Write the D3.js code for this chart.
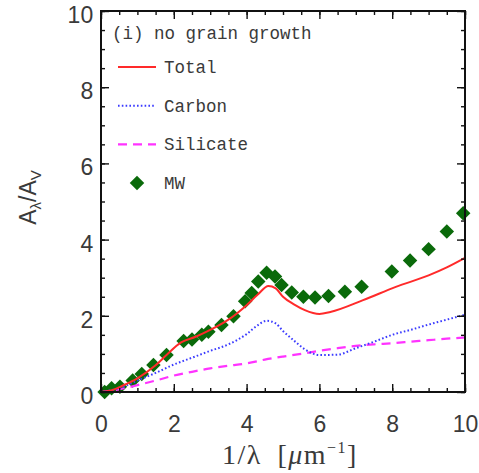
<!DOCTYPE html>
<html>
<head>
<meta charset="utf-8">
<script src="https://cdn.jsdelivr.net/npm/d3@7"></script>
<style>
  html, body { margin: 0; padding: 0; background: #fff; }
  svg { display: block; }
</style>
</head>
<body>
<svg id="svg"></svg>
<script>
// values
const totalX = [0, 0.3, 0.6, 1, 1.5, 1.8, 2.2, 2.6, 3, 3.5, 4, 4.3, 4.6, 4.8, 5, 5.3, 5.6, 6, 6.3, 7.2, 8.1, 9, 9.5, 10]
const totalY = [0, 0.05, 0.17, 0.36, 0.7, 0.97, 1.3, 1.45, 1.63, 1.9, 2.28, 2.55, 2.78, 2.72, 2.5, 2.3, 2.15, 2.05, 2.1, 2.41, 2.76, 3.06, 3.27, 3.52]
const carbonX = [0, 0.5, 1, 1.5, 2, 2.5, 3, 3.5, 4, 4.3, 4.55, 4.8, 5, 5.3, 5.6, 6, 6.5, 7, 7.5, 8, 8.5, 9, 9.5, 10]
const carbonY = [0, 0.1, 0.3, 0.5, 0.72, 0.9, 1.08, 1.25, 1.52, 1.75, 1.87, 1.8, 1.6, 1.35, 1.12, 0.97, 0.98, 1.15, 1.32, 1.5, 1.63, 1.77, 1.9, 2.03]
const silicateX = [0, 0.5, 1, 1.5, 2, 2.5, 3, 3.5, 4, 4.5, 5, 5.5, 6, 6.5, 7, 7.5, 8, 8.5, 9, 9.5, 10]
const silicateY = [0, 0.07, 0.18, 0.3, 0.43, 0.53, 0.62, 0.69, 0.75, 0.85, 0.93, 1.0, 1.08, 1.15, 1.21, 1.25, 1.28, 1.32, 1.36, 1.4, 1.43]
const mwX = [0.1, 0.29, 0.52, 0.87, 1.12, 1.44, 1.8, 2.27, 2.5, 2.77, 2.95, 3.31, 3.64, 3.96, 4.14, 4.32, 4.55, 4.78, 4.96, 5.24, 5.56, 5.88, 6.25, 6.7, 7.16, 7.99, 8.49, 9.0, 9.5, 9.95]
const mwY = [0.0, 0.1, 0.14, 0.3, 0.47, 0.71, 0.97, 1.34, 1.38, 1.5, 1.58, 1.76, 1.99, 2.38, 2.6, 2.9, 3.13, 3.03, 2.81, 2.61, 2.5, 2.48, 2.52, 2.63, 2.76, 3.16, 3.45, 3.75, 4.21, 4.69]
const majorTicks = [0, 2, 4, 6, 8, 10]
const legendNames = ['Total', 'Carbon', 'Silicate', 'MW']
const panelTitle = '(i) no grain growth'

const width = 479, height = 473
const margin = {top: 11, right: 14, bottom: 81, left: 101}
const x0 = margin.left, x1 = width - margin.right
const y0 = height - margin.bottom, y1 = margin.top

const x = d3.scaleLinear().domain([0, 10]).range([x0, x1])
const y = d3.scaleLinear().domain([0, 10]).range([y0, y1])
const minor = d3.range(0, 10.01, 0.5)

const styles = {
  Total: {color: '#ff2a2a', dash: null, w: 2},
  Carbon: {color: '#3b3bff', dash: '1.6,2.2', w: 2},
  Silicate: {color: '#ff33ff', dash: '9,6', w: 2.2}
}
const mwColor = '#0a6a0a'
const textColor = '#3a3a3a'

const svg = d3.select('#svg').attr('width', width).attr('height', height)
const plot = svg.append('g')

// MW points sit under the model curves
const diamond = d3.symbol(d3.symbolSquare, 105)
plot.selectAll('.mw')
  .data(d3.zip(mwX, mwY))
  .join('path')
    .attr('class', 'mw')
    .attr('d', diamond)
    .attr('transform', d => `translate(${x(d[0])},${y(d[1])}) rotate(45)`)
    .attr('fill', mwColor)

const line = d3.line().x(d => x(d[0])).y(d => y(d[1])).curve(d3.curveMonotoneX)
const series = [
  ['Silicate', d3.zip(silicateX, silicateY)],
  ['Carbon', d3.zip(carbonX, carbonY)],
  ['Total', d3.zip(totalX, totalY)]
]
series.forEach(([name, pts]) => {
  const s = styles[name]
  plot.append('path')
    .attr('d', line(pts))
    .attr('fill', 'none')
    .attr('stroke', s.color)
    .attr('stroke-width', s.w)
    .attr('stroke-dasharray', s.dash)
})

// axes, ticks on all four sides pointing inward
function axisPair(axisFn, scale, pos, pad) {
  const gMinor = svg.append('g').attr('transform', pos)
    .call(axisFn(scale).tickValues(minor).tickSize(-4).tickFormat(''))
  const gMajor = svg.append('g').attr('transform', pos)
    .call(axisFn(scale).tickValues(majorTicks).tickSize(-8).tickPadding(pad || 0)
      .tickFormat(pad ? d3.format('d') : ''))
  ;[gMinor, gMajor].forEach(g => {
    g.selectAll('.domain').remove()
    g.selectAll('line').attr('stroke', '#111').attr('stroke-width', 1.4)
  })
  gMajor.selectAll('text')
    .attr('fill', textColor)
    .style('font-family', 'Liberation Sans, Arial, sans-serif')
    .style('font-size', '23px')
  return gMajor
}
axisPair(d3.axisBottom, x, `translate(0,${y0})`, 24)
axisPair(d3.axisTop, x, `translate(0,${y1})`, 0)
const yl = axisPair(d3.axisLeft, y, `translate(${x0},0)`, 17)
yl.selectAll('text').attr('dx', '0.4em').attr('dy', '0.5em')
axisPair(d3.axisRight, y, `translate(${x1},0)`, 0)

svg.append('rect')
  .attr('x', x0).attr('y', y1)
  .attr('width', x1 - x0).attr('height', y0 - y1)
  .attr('fill', 'none').attr('stroke', '#111').attr('stroke-width', 2)

// axis titles
const xt = svg.append('text')
  .attr('x', 290).attr('y', 464)
  .attr('text-anchor', 'middle')
  .attr('fill', textColor)
  .style('font-family', 'Liberation Serif, serif')
  .style('font-size', '28px')
  .style('letter-spacing', '1.5px')
xt.append('tspan').text('1/λ\u2002[')
xt.append('tspan').style('font-style', 'italic').text('μ')
xt.append('tspan').text('m')
xt.append('tspan').attr('dy', -11).style('font-size', '16px').text('−1')
xt.append('tspan').attr('dy', 11).text(']')

const yt = svg.append('text')
  .attr('transform', `translate(36,${(y0 + y1) / 2 - 4}) rotate(-90)`)
  .attr('text-anchor', 'middle')
  .attr('fill', textColor)
  .style('font-family', 'Liberation Sans, Arial, sans-serif')
  .style('font-size', '23px')
yt.append('tspan').text('A')
yt.append('tspan').attr('dy', 5).style('font-size', '15px').text('λ')
yt.append('tspan').attr('dy', -5).text('/A')
yt.append('tspan').attr('dy', 5).style('font-size', '15px').text('V')

// legend
const mono = 'Liberation Mono, Courier New, monospace'
svg.append('text')
  .attr('x', 112).attr('y', 39)
  .attr('fill', textColor)
  .style('font-family', mono)
  .style('font-size', '17.5px')
  .text(panelTitle)

const legendY = d3.scalePoint().domain(legendNames).range([67, 183])
const leg = svg.append('g')
legendNames.forEach(name => {
  const yy = legendY(name)
  if (name === 'MW') {
    leg.append('path').attr('d', diamond)
      .attr('transform', `translate(137,${yy}) rotate(45)`)
      .attr('fill', mwColor)
  } else {
    const s = styles[name]
    leg.append('line')
      .attr('x1', 118).attr('x2', 156).attr('y1', yy).attr('y2', yy)
      .attr('stroke', s.color).attr('stroke-width', s.w)
      .attr('stroke-dasharray', s.dash)
  }
  leg.append('text')
    .attr('x', 164).attr('y', yy + 6)
    .attr('fill', textColor)
    .style('font-family', mono)
    .style('font-size', '17.5px')
    .text(name)
})
</script>
</body>
</html>
